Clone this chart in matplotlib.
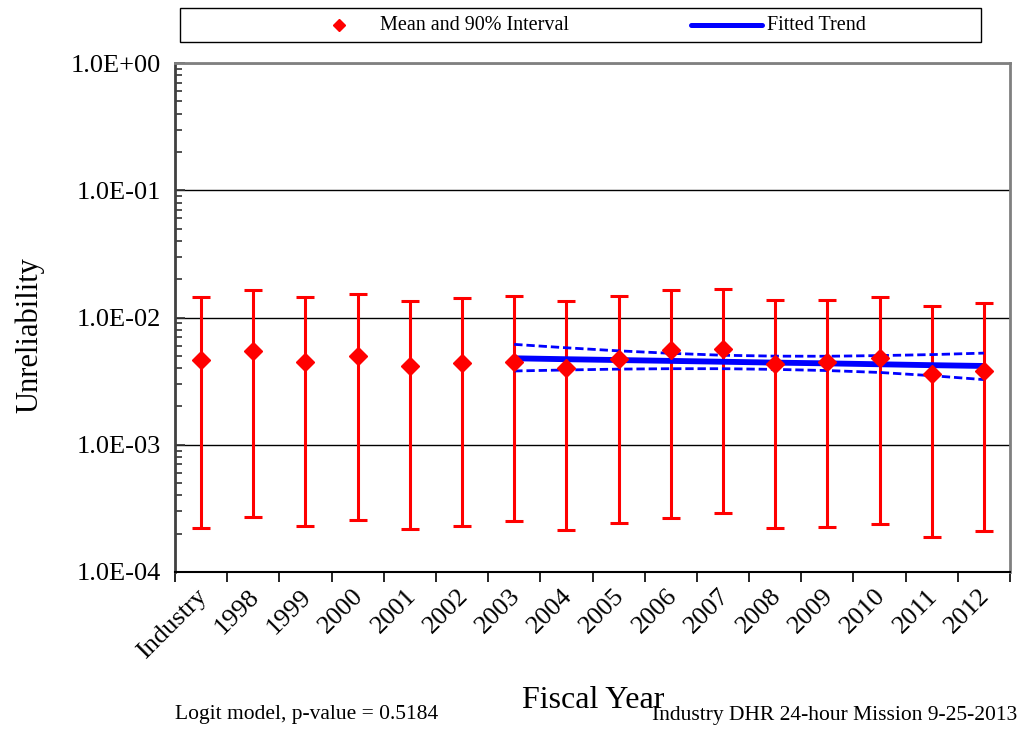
"""Unreliability by fiscal year with 90% intervals and fitted logit trend."""
import numpy as np
import matplotlib; matplotlib.use('Agg')
import matplotlib.pyplot as plt
from matplotlib.patches import Rectangle
from matplotlib.lines import Line2D
from matplotlib.ticker import FixedLocator, FuncFormatter, LogLocator, NullFormatter

plt.rcParams['font.family'] = ['Liberation Serif', 'DejaVu Serif']

categories = ['Industry', '1998', '1999', '2000', '2001', '2002', '2003', '2004',
              '2005', '2006', '2007', '2008', '2009', '2010', '2011', '2012']
means = [4.63e-3, 5.42e-3, 4.49e-3, 4.95e-3, 4.18e-3, 4.41e-3, 4.45e-3, 4.03e-3,
         4.72e-3, 5.55e-3, 5.62e-3, 4.31e-3, 4.49e-3, 4.83e-3, 3.60e-3, 3.82e-3]
upper = [1.46e-2, 1.63e-2, 1.44e-2, 1.52e-2, 1.35e-2, 1.42e-2, 1.48e-2, 1.35e-2,
         1.48e-2, 1.63e-2, 1.66e-2, 1.38e-2, 1.38e-2, 1.45e-2, 1.23e-2, 1.29e-2]
lower = [2.22e-4, 2.72e-4, 2.31e-4, 2.56e-4, 2.17e-4, 2.31e-4, 2.53e-4, 2.15e-4,
         2.41e-4, 2.66e-4, 2.91e-4, 2.20e-4, 2.26e-4, 2.37e-4, 1.87e-4, 2.10e-4]

trend_years = ['2003', '2004', '2005', '2006', '2007', '2008', '2009', '2010', '2011', '2012']
trend_mid = [4.78e-3, 4.70e-3, 4.63e-3, 4.56e-3, 4.49e-3, 4.42e-3, 4.36e-3, 4.29e-3, 4.22e-3, 4.16e-3]
trend_hi  = [6.15e-3, 5.78e-3, 5.47e-3, 5.23e-3, 5.05e-3, 4.97e-3, 4.96e-3, 5.02e-3, 5.11e-3, 5.25e-3]
trend_lo  = [3.80e-3, 3.87e-3, 3.93e-3, 3.96e-3, 3.96e-3, 3.91e-3, 3.83e-3, 3.70e-3, 3.49e-3, 3.25e-3]

yticks = [1e-4, 1e-3, 1e-2, 1e-1, 1e0]

W, H = 1017, 730
fig = plt.figure(figsize=(W/100, H/100), dpi=100)
ax = fig.add_axes([175/W, 1-572/H, (1010-175)/W, (572-63)/H])

x = np.arange(len(categories))
m = np.array(means)
ax.errorbar(x, m, yerr=[m-np.array(lower), np.array(upper)-m], fmt='none',
            ecolor='#ff0000', elinewidth=2.2, capsize=6.5, capthick=2.2, zorder=3)

tx = np.array([categories.index(y) for y in trend_years])
ax.plot(tx, trend_mid, color='#0000ff', lw=4.2, zorder=4, solid_capstyle='butt')
ax.plot(tx, trend_hi, color='#0000ff', lw=2.0, ls=(0, (3, 1.4)), zorder=4)
ax.plot(tx, trend_lo, color='#0000ff', lw=2.0, ls=(0, (3, 1.4)), zorder=4)
ax.plot(x, m, 'D', color='#ff0000', ms=9, zorder=5, clip_on=False)

ax.set_yscale('log')
ax.set_ylim(1e-4, 1)
ax.set_xlim(-0.5, len(categories)-0.5)
ax.yaxis.set_major_locator(FixedLocator(yticks))
ax.yaxis.set_major_formatter(FuncFormatter(lambda v, p: f"{v:.1E}"))
ax.yaxis.set_minor_locator(LogLocator(base=10, subs=np.arange(2, 10)))
ax.yaxis.set_minor_formatter(NullFormatter())
ax.tick_params(axis='y', which='major', direction='in', length=7, width=1.2,
               labelsize=19, pad=10, color='#333333')
ax.tick_params(axis='y', which='minor', direction='in', length=5, width=1.2, color='#333333')
ax.grid(axis='y', which='major', color='black', lw=1)

ax.set_xticks(x + 0.05)
ax.set_xticklabels(categories, rotation=45, ha='right', va='center',
                   rotation_mode='anchor', fontsize=19)
ax.set_xticks(np.arange(len(categories)+1) - 0.5, minor=True)
ax.tick_params(axis='x', which='major', length=0, pad=15)
ax.tick_params(axis='x', which='minor', direction='out', length=7, width=1.2, color='black')

for s in ['top', 'right']:
    ax.spines[s].set_color('#808080'); ax.spines[s].set_linewidth(2)
ax.spines['left'].set_color('#404040'); ax.spines['left'].set_linewidth(2)
ax.spines['bottom'].set_color('black'); ax.spines['bottom'].set_linewidth(1.5)
ax.set_axisbelow(True)

# legend box drawn at the top in figure pixels
fig.add_artist(Rectangle((180/W, 1-42/H), (981-180)/W, 34/H, transform=fig.transFigure,
                         fill=False, ec='black', lw=1))
fig.add_artist(Line2D([339/W], [1-25/H], marker='D', color='#ff0000', ms=6.5, ls='none',
                      transform=fig.transFigure))
fig.text(380/W, 1-25/H, 'Mean and 90% Interval', fontsize=14.5, va='center', ha='left')
fig.add_artist(Line2D([691/W, 762/W], [1-25/H, 1-25/H], color='#0000ff', lw=3.6,
                      solid_capstyle='round', transform=fig.transFigure))
fig.text(767/W, 1-25/H, 'Fitted Trend', fontsize=14.5, va='center', ha='left')

fig.text(30/W, 1-335/H, 'Unreliability', rotation=90, fontsize=22, ha='center', va='center')
fig.text(593/W, 1-708/H, 'Fiscal Year', fontsize=23, ha='center', va='baseline')
fig.text(175/W, 1-719/H, 'Logit model, p-value = 0.5184', fontsize=15.5, ha='left', va='baseline')
fig.text(652/W, 1-720/H, 'Industry DHR 24-hour Mission 9-25-2013', fontsize=15.5,
         ha='left', va='baseline')

fig.savefig('out.png', dpi=100)
